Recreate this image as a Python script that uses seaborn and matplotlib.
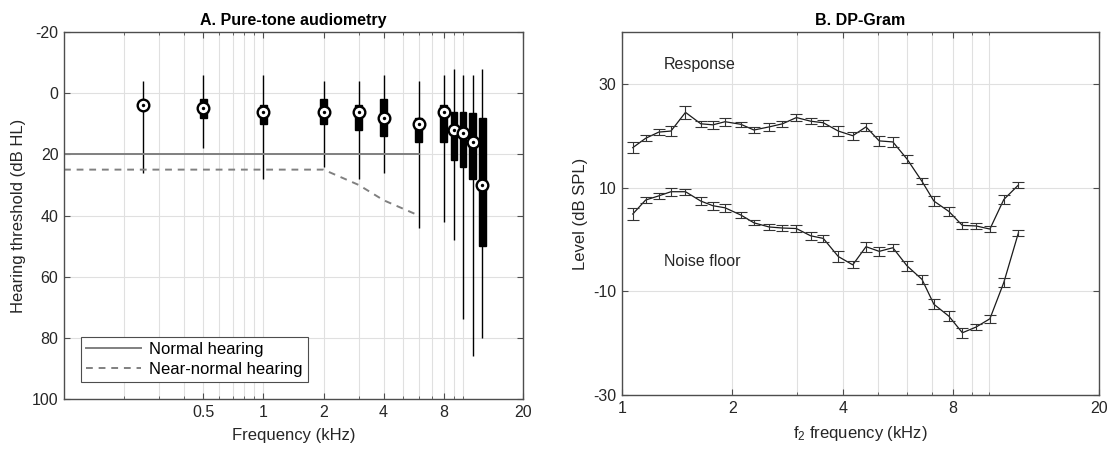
import numpy as np
import pandas as pd
import matplotlib
matplotlib.use("Agg")
import matplotlib.pyplot as plt
from matplotlib.ticker import NullFormatter
import seaborn as sns

# A. Pure-tone audiometry: five-number summary per test frequency (dB HL)
pta_freq = [0.25, 0.5, 1, 2, 3, 4, 6, 8, 9, 10, 11.2, 12.5]
pta_min = [-4, -6, -6, -4, -4, -6, -4, -6, -8, -6, -6, -8]
pta_q1 = [3, 2, 4, 2, 4, 2, 8, 4, 6, 6, 6.5, 8]
pta_med = [4, 5, 6, 6, 6, 8, 10, 6, 12, 13, 16, 30]
pta_q3 = [5, 8, 10, 10, 12, 14, 16, 16, 22, 24, 28, 50]
pta_max = [26, 18, 28, 24, 28, 26, 44, 42, 48, 74, 86, 80]

normal_freq = [0.1, 6]
normal_thr = [20, 20]
near_freq = [0.1, 2, 3, 4, 6]
near_thr = [25, 25, 30, 35, 40]

pta_xticks = [0.5, 1, 2, 4, 8, 20]
pta_xlabels = ["0.5", "1", "2", "4", "8", "20"]
pta_yticks = [-20, 0, 20, 40, 60, 80, 100]

# B. DP-gram (dB SPL)
dp_freq = [1.07, 1.16, 1.26, 1.36, 1.49, 1.64, 1.77, 1.91, 2.11, 2.29,
           2.52, 2.74, 2.99, 3.27, 3.54, 3.89, 4.26, 4.63, 5.03, 5.48,
           5.99, 6.58, 7.09, 7.79, 8.48, 9.24, 10.08, 11.0, 12.06]
resp = [17.7, 19.5, 20.7, 20.9, 24.5, 22.3, 22.1, 22.7, 22.2, 21.1,
        21.7, 22.3, 23.5, 22.8, 22.5, 20.9, 20.0, 21.7, 19.0, 18.8,
        15.5, 11.2, 7.4, 5.4, 2.7, 2.6, 2.0, 7.7, 10.5]
resp_err = [1.0, 0.6, 0.6, 1.0, 1.2, 0.6, 0.8, 0.8, 0.5, 0.6,
            0.8, 0.6, 0.6, 0.6, 0.6, 0.9, 0.8, 0.8, 1.0, 1.0,
            0.8, 0.6, 1.0, 0.8, 0.6, 0.6, 0.5, 0.8, 0.6]
noise = [4.9, 7.6, 8.4, 9.2, 9.2, 7.4, 6.5, 6.1, 4.7, 3.2,
         2.4, 2.2, 2.1, 0.7, 0.2, -3.3, -4.9, -1.4, -2.3, -1.6,
         -5.1, -7.7, -12.5, -14.8, -18.0, -16.9, -15.3, -8.3, 1.3]
noise_err = [1.2, 0.6, 0.6, 0.8, 0.6, 0.8, 0.8, 0.8, 0.5, 0.5,
             0.6, 0.6, 0.6, 0.8, 0.6, 1.0, 0.7, 1.0, 0.8, 0.7,
             1.0, 0.9, 1.0, 1.0, 1.0, 0.6, 0.8, 0.8, 0.6]
dp_xticks = [1, 2, 4, 8, 20]
dp_xlabels = ["1", "2", "4", "8", "20"]
dp_yticks = [-30, -10, 10, 30]

# log-axis minor grid positions (MATLAB style)
grid_freqs = [0.2, 0.3, 0.4, 0.5, 0.6, 0.7, 0.8, 0.9, 1,
              2, 3, 4, 5, 6, 7, 8, 9, 10, 20]

plt.rcParams["font.family"] = ["Liberation Sans", "DejaVu Sans"]
plt.rcParams["mathtext.fontset"] = "custom"
plt.rcParams["mathtext.rm"] = "Liberation Sans"
plt.rcParams["mathtext.it"] = "Liberation Sans"
plt.rcParams["axes.unicode_minus"] = False

FS = 11.5
GRID = "#e0e0e0"
AXC = "#4d4d4d"
TXT = "#262626"

fig = plt.figure(figsize=(11.19, 4.51), dpi=100)
ax1 = fig.add_axes([64 / 1119, 52 / 451, 459 / 1119, 367 / 451])
ax2 = fig.add_axes([622 / 1119, 56 / 451, 477 / 1119, 363 / 451])


def style_axes(ax, xlim, ylim, xticks, xlabels, yticks, minor):
    ax.set_xscale("log")
    ax.set_xlim(*xlim)
    ax.set_ylim(*ylim)
    ax.set_xticks(xticks)
    ax.set_xticklabels(xlabels)
    ax.set_xticks([f for f in minor if xlim[0] < f < xlim[1]], minor=True)
    ax.xaxis.set_minor_formatter(NullFormatter())
    ax.set_yticks(yticks)
    ax.grid(False)
    ax.grid(axis="x", which="both", color=GRID, linewidth=0.8)
    ax.grid(axis="y", which="major", color=GRID, linewidth=0.8)
    ax.set_axisbelow(True)
    ax.tick_params(which="both", direction="in", top=True, right=True,
                   colors=AXC, labelcolor=TXT, labelsize=FS)
    ax.tick_params(which="major", length=4, width=0.8, pad=4)
    ax.tick_params(which="minor", length=2.5, width=0.6)
    for sp in ax.spines.values():
        sp.set_color(AXC)
        sp.set_linewidth(1.0)


# ---- panel A ----
rows = []
for f, a, b, c, d, e in zip(pta_freq, pta_min, pta_q1, pta_med, pta_q3, pta_max):
    for v in (a, b, c, d, e):
        rows.append({"freq": f, "thr": v})
box_df = pd.DataFrame(rows)

sns.boxplot(data=box_df, x="freq", y="thr", orient="x", native_scale=True,
            log_scale=(True, False), whis=(0, 100), width=0.72,
            color="black", linecolor="black", linewidth=1.0, showcaps=False,
            showfliers=False, medianprops={"linewidth": 0}, ax=ax1)

sns.lineplot(x=normal_freq, y=normal_thr, color="#808080", linewidth=1.4,
             label="Normal hearing", ax=ax1)
sns.lineplot(x=near_freq, y=near_thr, color="#808080", linewidth=1.4,
             linestyle=(0, (3.5, 3)), label="Near-normal hearing", ax=ax1)

sns.scatterplot(x=pta_freq, y=pta_med, s=70, color="white", edgecolor="black",
                linewidth=1.7, zorder=4, ax=ax1)
sns.scatterplot(x=pta_freq, y=pta_med, s=6, color="black", linewidth=0,
                zorder=5, ax=ax1)

style_axes(ax1, (0.1, 20), (100, -20), pta_xticks, pta_xlabels, pta_yticks,
           grid_freqs)
ax1.set_title("A. Pure-tone audiometry", fontsize=FS, fontweight="bold",
              color="black", pad=5)
ax1.set_xlabel("Frequency (kHz)", fontsize=FS + 0.5, color=TXT, labelpad=6)
ax1.set_ylabel("Hearing threshold (dB HL)", fontsize=FS + 0.5, color=TXT,
               labelpad=4)

leg = ax1.legend(loc="lower left", bbox_to_anchor=(0.037, 0.046), fontsize=FS + 0.5,
                 frameon=True, fancybox=False, handlelength=3.3,
                 borderpad=0.3, labelspacing=0.3, handletextpad=0.5,
                 borderaxespad=0)
leg.get_frame().set_edgecolor(AXC)
leg.get_frame().set_linewidth(0.8)
leg.get_frame().set_alpha(1)

# ---- panel B ----
ax2.set_xscale("log")
for vals, errs in ((resp, resp_err), (noise, noise_err)):
    sns.lineplot(x=dp_freq, y=vals, color="#1a1a1a", linewidth=0.9, ax=ax2)
    ax2.errorbar(dp_freq, vals, yerr=errs, fmt="none", ecolor="#333333",
                 elinewidth=0.8, capsize=4, capthick=0.8)

style_axes(ax2, (1, 20), (-30, 40), dp_xticks, dp_xlabels, dp_yticks,
           grid_freqs)
ax2.text(1.3, 33.8, "Response", fontsize=FS, color=TXT, va="center")
ax2.text(1.3, -4.3, "Noise floor", fontsize=FS, color=TXT, va="center")
ax2.set_title("B. DP-Gram", fontsize=FS, fontweight="bold", color="black", pad=5)
ax2.set_xlabel("f$_2$ frequency (kHz)", fontsize=FS + 0.5, color=TXT, labelpad=6)
ax2.set_ylabel("Level (dB SPL)", fontsize=FS + 0.5, color=TXT, labelpad=4)

fig.savefig("out.png", dpi=100)
